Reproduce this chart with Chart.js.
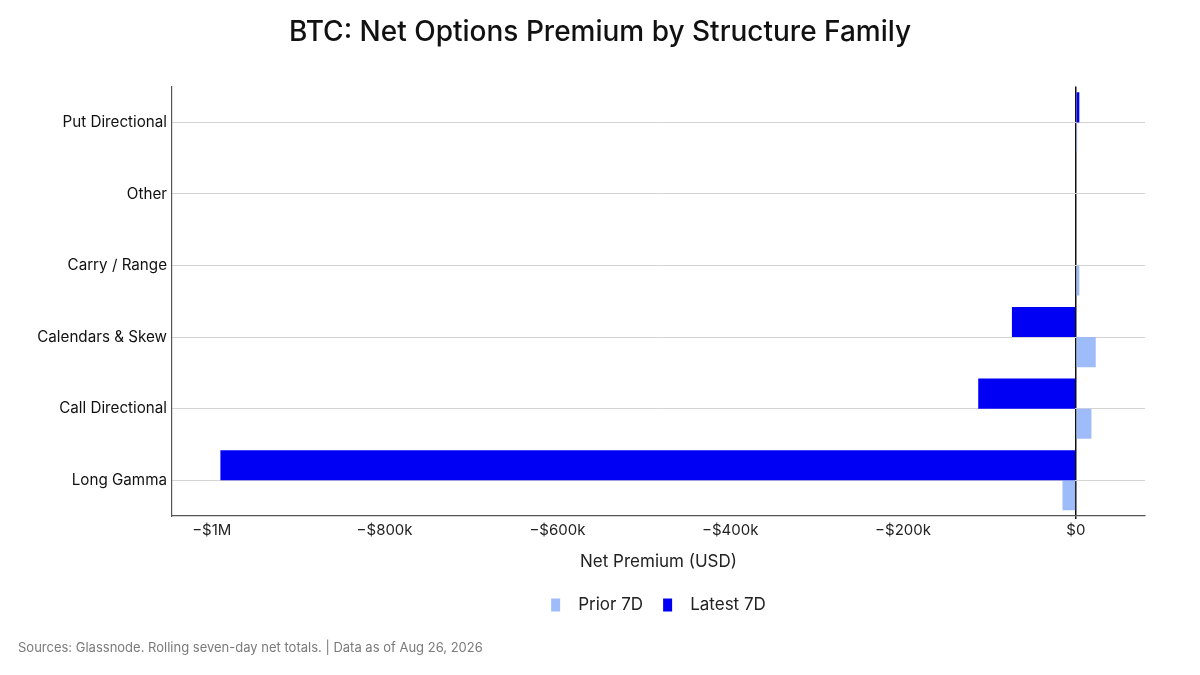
<!DOCTYPE html>
<html>
<head>
<meta charset="utf-8">
<script src="https://cdn.jsdelivr.net/npm/chart.js@4"></script>
<style>
  html, body { margin: 0; padding: 0; background: #fff; }
  #wrap { width: 1200px; height: 675px; position: relative; }
</style>
</head>
<body>
<div id="wrap"><canvas id="myChart"></canvas></div>
<script>
// structure families, top to bottom
const families = ["Put Directional", "Other", "Carry / Range", "Calendars & Skew", "Call Directional", "Long Gamma"];

// net premium in USD
const latest7d = [4000, 0, 0, -74000, -113000, -990000];
const prior7d = [1500, 0, 4000, 23000, 18000, -15500];

const xTicks = [-1000000, -800000, -600000, -400000, -200000, 0];

const FONT = "Inter, 'Noto Sans', sans-serif";

function money(v) {
    if (v === 0) return "$0";
    let sign = v < 0 ? "\u2212" : "";
    let a = Math.abs(v);
    if (a >= 1000000) return sign + "$" + (a / 1000000) + "M";
    return sign + "$" + (a / 1000) + "k";
}

new Chart("myChart", {
    type: "bar",
    data: {
        labels: families,
        datasets: [
            {
                label: "Latest 7D",
                data: latest7d,
                backgroundColor: "#0000f5",
                categoryPercentage: 0.84,
                barPercentage: 1.0,
                yAxisID: "y"
            },
            {
                label: "Prior 7D",
                data: prior7d,
                backgroundColor: "#9ebcfa",
                categoryPercentage: 0.84,
                barPercentage: 1.0,
                yAxisID: "y"
            }
        ]
    },
    options: {
        indexAxis: "y",
        responsive: true,
        maintainAspectRatio: false,
        animation: false,
        layout: { padding: { left: 18, right: 18, top: 0, bottom: 0 } },
        plugins: {
            title: {
                display: true,
                text: "BTC: Net Options Premium by Structure Family",
                color: "#111",
                font: { family: FONT, size: 28, weight: "500" },
                padding: { top: 16, bottom: 37 }
            },
            subtitle: {
                display: true,
                position: "bottom",
                align: "start",
                text: "Sources: Glassnode. Rolling seven-day net totals. | Data as of Aug 26, 2026",
                color: "#7a7a7a",
                font: { family: FONT, size: 13 },
                padding: { top: 17, bottom: 19 }
            },
            legend: {
                position: "bottom",
                fullSize: false,
                reverse: true,
                labels: {
                    color: "#222",
                    font: { family: FONT, size: 17 },
                    boxWidth: 9,
                    boxHeight: 13,
                    padding: 20,
                    generateLabels: function (chart) {
                        let items = Chart.defaults.plugins.legend.labels.generateLabels(chart);
                        items.forEach(function (it) { it.text = "  " + it.text; it.lineWidth = 0; });
                        return items;
                    }
                }
            },
            tooltip: { enabled: false }
        },
        scales: {
            x: {
                min: -1046000,
                max: 80000,
                afterBuildTicks: function (scale) {
                    scale.ticks = xTicks.map(function (v) { return { value: v }; });
                },
                ticks: {
                    color: "#222",
                    font: { family: FONT, size: 15 },
                    padding: 2,
                    callback: function (v) { return money(v); }
                },
                grid: {
                    color: function (ctx) { return ctx.tick && ctx.tick.value === 0 ? "#111" : "rgba(0,0,0,0)"; },
                    lineWidth: 1.5,
                    tickLength: 3
                },
                border: { color: "#555", width: 1.2 },
                title: {
                    display: true,
                    text: "Net Premium (USD)",
                    color: "#222",
                    font: { family: FONT, size: 17 },
                    padding: { top: 11, bottom: 4 }
                }
            },
            y: {
                afterFit: function (scale) { scale.width = 154; },
                ticks: {
                    color: "#111",
                    font: { family: FONT, size: 15.2 },
                    padding: 5
                },
                grid: {
                    offset: false,
                    color: "#d4d4d4",
                    lineWidth: 1,
                    drawTicks: false
                },
                border: { color: "#555", width: 1.2 }
            },
            // empty spacer on the right so the title stays centred on the page
            y2: {
                type: "linear",
                axis: "y",
                position: "right",
                display: true,
                ticks: { display: false },
                grid: { display: false, drawTicks: false },
                border: { display: false },
                afterFit: function (scale) { scale.width = 37; }
            }
        }
    }
});
</script>
</body>
</html>
